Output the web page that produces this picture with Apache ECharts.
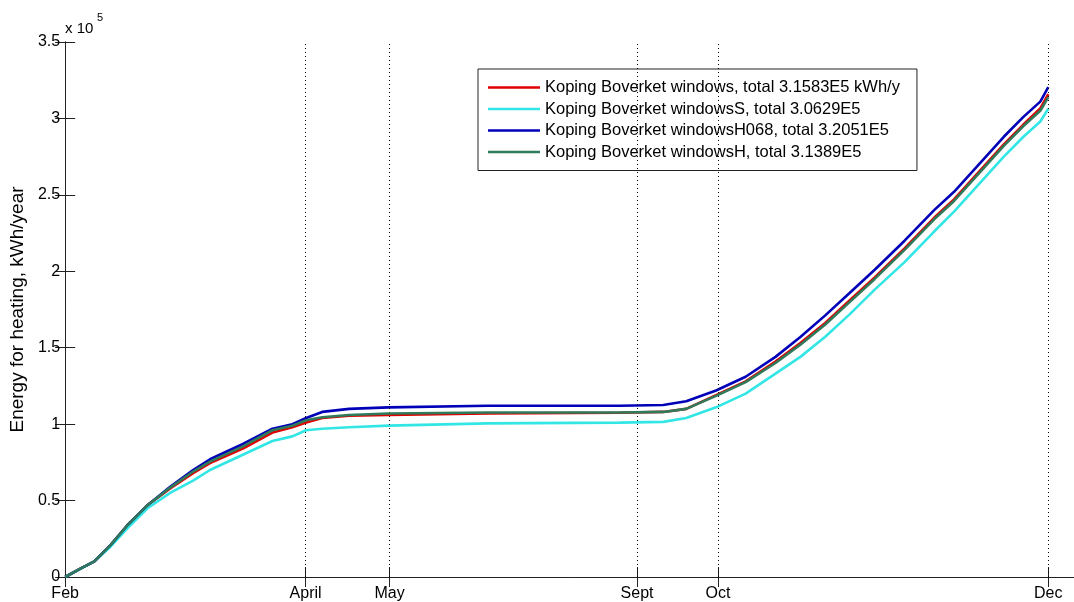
<!DOCTYPE html>
<html>
<head>
<meta charset="utf-8">
<script src="https://cdn.jsdelivr.net/npm/echarts@6/dist/echarts.min.js"></script>
<style>
  html, body { margin: 0; padding: 0; background: #fff; }
  #chart { width: 1074px; height: 602px; }
</style>
</head>
<body>
<div id="chart"></div>
<script>
// x: day index from start of axis (Feb)
var days = [0, 5.7, 10.4, 16.5, 22.6, 29.8, 38.0, 46.3, 52.4, 64.3, 75.0, 82.2, 87.2, 93.0, 102.7, 117.0, 152.9, 200.6, 216.4, 224.7, 235.5, 246.2, 257.0, 266.0, 274.9, 283.9, 292.9, 303.7, 314.4, 321.6, 330.6, 339.6, 346.7, 352.8, 355.7];

// Energy for heating, units of 1e5 kWh/year (cumulative)
var windows    = [0, 0.057, 0.10, 0.21, 0.34, 0.47, 0.58, 0.68, 0.745, 0.84, 0.945, 0.98, 1.01, 1.04, 1.055, 1.06, 1.07, 1.075, 1.08, 1.10, 1.19, 1.28, 1.41, 1.53, 1.66, 1.81, 1.96, 2.15, 2.35, 2.47, 2.65, 2.83, 2.96, 3.065, 3.1583];
var windowsS   = [0, 0.055, 0.10, 0.20, 0.32, 0.45, 0.55, 0.63, 0.70, 0.80, 0.89, 0.92, 0.96, 0.97, 0.98, 0.99, 1.005, 1.01, 1.015, 1.04, 1.11, 1.20, 1.33, 1.44, 1.57, 1.72, 1.88, 2.06, 2.26, 2.39, 2.57, 2.75, 2.88, 2.98, 3.0629];
var windowsH068= [0, 0.057, 0.10, 0.21, 0.34, 0.47, 0.59, 0.70, 0.77, 0.87, 0.97, 1.00, 1.04, 1.08, 1.10, 1.11, 1.12, 1.12, 1.125, 1.15, 1.22, 1.31, 1.44, 1.57, 1.71, 1.86, 2.01, 2.20, 2.40, 2.52, 2.70, 2.88, 3.01, 3.11, 3.2051];
var windowsH   = [0, 0.057, 0.10, 0.21, 0.34, 0.47, 0.585, 0.69, 0.755, 0.855, 0.96, 0.99, 1.025, 1.045, 1.06, 1.07, 1.076, 1.076, 1.08, 1.10, 1.185, 1.275, 1.40, 1.52, 1.65, 1.80, 1.95, 2.14, 2.34, 2.46, 2.64, 2.82, 2.95, 3.05, 3.1389];

var seriesNames = [
  'Koping Boverket windows, total 3.1583E5 kWh/y',
  'Koping Boverket windowsS, total 3.0629E5',
  'Koping Boverket windowsH068, total 3.2051E5',
  'Koping Boverket windowsH, total 3.1389E5'
];
var seriesColors = ['#e00000', '#33e6e6', '#0000b8', '#2e7a5a'];

var tickDays = [0, 87.0, 117.4, 206.9, 236.2, 355.7];
var tickLabels = ['Feb', 'April', 'May', 'Sept', 'Oct', 'Dec'];
var gridDays = [87.0, 117.4, 206.9, 236.2, 355.7];

function pairs(ys) { return days.map(function (d, i) { return [d, ys[i]]; }); }

var FONT = '"Liberation Sans", Arial, sans-serif';
var chart = echarts.init(document.getElementById('chart'), null, { renderer: 'canvas' });

var allData = [windows, windowsS, windowsH068, windowsH];
var series = allData.map(function (ys, i) {
  var s = {
    name: seriesNames[i],
    type: 'line',
    data: pairs(ys),
    showSymbol: false,
    symbol: 'none',
    smooth: false,
    lineStyle: { color: seriesColors[i], width: 2.6 },
    itemStyle: { color: seriesColors[i] },
    z: 2 + i,
    animation: false
  };
  if (i === 0) {
    s.markLine = {
      silent: true,
      symbol: ['none', 'none'],
      label: { show: false },
      lineStyle: { color: '#000', type: [1, 3], width: 1 },
      data: gridDays.map(function (d) { return { xAxis: d }; }),
      animation: false
    };
  }
  return s;
});

var option = {
  backgroundColor: '#fff',
  animation: false,
  grid: { left: 64, top: 42, width: 1017, bottom: 23, containLabel: false },
  legend: {
    orient: 'vertical',
    left: 478,
    top: 69,
    backgroundColor: '#fff',
    borderColor: '#222',
    borderWidth: 1,
    borderRadius: 0,
    padding: [10, 17, 10, 10],
    itemGap: 4.5,
    itemWidth: 52,
    itemHeight: 2.5,
    icon: 'rect',
    textStyle: { fontSize: 16.5, color: '#000', fontFamily: FONT },
    data: seriesNames,
    selectedMode: false
  },
  xAxis: [{
    type: 'value',
    min: 0,
    max: 365,
    position: 'bottom',
    axisLine: { show: true, lineStyle: { color: '#222', width: 1 } },
    axisTick: { show: true, inside: true, length: 10, customValues: tickDays, lineStyle: { color: '#222' } },
    axisLabel: {
      show: true, customValues: tickDays, margin: 9,
      fontSize: 16, color: '#000', fontFamily: FONT,
      formatter: function (v) { var k = tickDays.indexOf(v); return k >= 0 ? tickLabels[k] : ''; }
    },
    splitLine: { show: false }
  }, {
    type: 'value',
    min: 0,
    max: 365,
    position: 'top',
    axisLine: { show: true, lineStyle: { color: '#222', width: 1 } },
    axisTick: { show: true, inside: true, length: 10, customValues: tickDays, lineStyle: { color: '#222' } },
    axisLabel: { show: false },
    splitLine: { show: false }
  }],
  yAxis: [{
    type: 'value',
    min: 0,
    max: 3.5,
    interval: 0.5,
    position: 'left',
    name: 'Energy for heating, kWh/year',
    nameLocation: 'middle',
    nameGap: 37,
    nameTextStyle: { fontSize: 19, color: '#000', fontFamily: FONT },
    axisLine: { show: true, lineStyle: { color: '#222', width: 1 } },
    axisTick: { show: true, inside: true, length: 10, lineStyle: { color: '#222' } },
    axisLabel: {
      fontSize: 16, color: '#000', fontFamily: FONT, margin: 5,
      formatter: function (v) { return String(v); }
    },
    splitLine: { show: false }
  }, {
    type: 'value',
    min: 0,
    max: 3.5,
    interval: 0.5,
    position: 'right',
    axisLine: { show: true, lineStyle: { color: '#222', width: 1 } },
    axisTick: { show: true, inside: true, length: 10, lineStyle: { color: '#222' } },
    axisLabel: { show: false },
    splitLine: { show: false }
  }],
  graphic: [
    { type: 'text', left: 65, top: 21, style: { text: 'x 10', fontSize: 15, fill: '#000', fontFamily: FONT } },
    { type: 'text', left: 97, top: 12, style: { text: '5', fontSize: 11, fill: '#000', fontFamily: FONT } }
  ],
  series: series
};
chart.setOption(option);
</script>
</body>
</html>
